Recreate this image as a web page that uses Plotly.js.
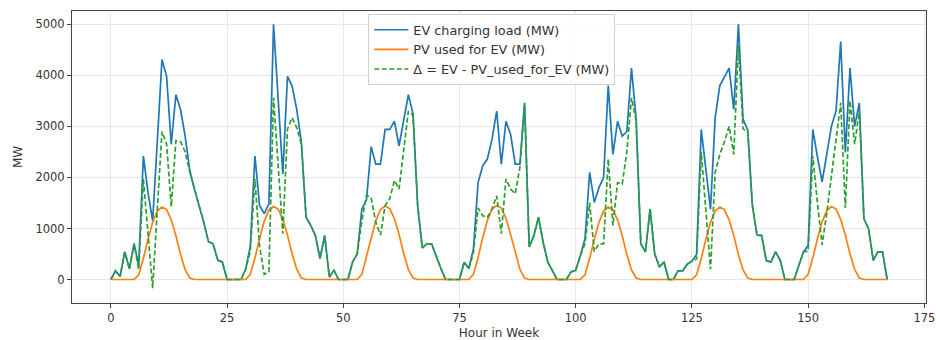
<!DOCTYPE html>
<html>
<head>
<meta charset="utf-8">
<script src="https://cdn.plot.ly/plotly-3.0.1.min.js"></script>
<style>html,body{margin:0;padding:0;background:#fff;}#chart{width:936px;height:340px;}</style>
</head>
<body>
<div id="chart"></div>
<script>
// Hour in week (0..167)
const hours = Array.from({length: 168}, (_, i) => i);

// EV charging load (MW)
const evLoad = [
  // day 1 (0-23)
  0,170,60,540,210,700,280,2420,1700,1150,2700,4310,3980,2650,3620,3330,2800,2130,1770,1450,1120,740,700,380,
  // day 2 (24-47)
  340,0,0,0,0,200,650,2420,1450,1290,1480,5000,3550,2070,3980,3790,3330,2680,1220,1060,860,410,860,50,
  // day 3 (48-71)
  180,0,0,0,340,500,1380,1560,2600,2260,2260,2940,2940,3100,2620,3140,3620,3250,1450,620,700,700,450,215,
  // day 4 (72-95)
  0,0,0,0,340,215,600,1900,2230,2360,2750,3300,2260,3100,2840,2260,2260,3460,640,860,1220,730,340,180,
  // day 5 (96-119)
  0,0,0,150,180,470,800,2100,1510,1800,2000,3800,2450,3100,2810,2900,4140,3140,700,540,1380,500,250,340,
  // day 6 (120-143)
  0,0,170,170,300,360,490,2940,2150,1380,3170,3800,3970,4140,3330,5000,3140,2930,1450,870,860,370,344,540,
  // day 7 (144-167)
  377,0,0,0,280,540,670,2940,2400,1915,2450,3000,3300,4660,2490,4140,3000,3460,1190,990,377,540,540,0
];

// PV used for EV (MW)
const pvUsed = [
  0,0,0,0,0,0,90,410,790,1120,1340,1420,1370,1170,860,490,190,30,0,0,0,0,0,0,
  0,0,0,0,0,0,100,420,800,1140,1360,1430,1380,1180,870,500,200,30,0,0,0,0,0,0,
  0,0,0,0,0,0,100,430,810,1150,1370,1440,1390,1190,880,510,200,30,0,0,0,0,0,0,
  0,0,0,0,0,0,100,430,820,1160,1380,1450,1400,1200,880,510,200,30,0,0,0,0,0,0,
  0,0,0,0,0,0,90,410,790,1120,1340,1420,1370,1170,860,490,190,30,0,0,0,0,0,0,
  0,0,0,0,0,0,90,410,790,1120,1340,1420,1370,1170,860,490,190,30,0,0,0,0,0,0,
  0,0,0,0,0,0,100,420,800,1130,1350,1430,1380,1180,870,500,200,30,0,0,0,0,0,0
];

// Δ = EV - PV_used_for_EV (MW)
const delta = [
  0,170,60,540,210,700,190,1970,900,-170,1380,2900,2650,1430,2720,2700,2500,2100,1770,1450,1120,740,700,380,
  340,0,0,0,0,200,550,1970,650,100,150,3560,2200,900,2950,3170,2970,2650,1220,1060,860,410,860,50,
  180,0,0,0,340,500,1150,1650,1600,1120,870,1450,1580,1940,1770,2550,3300,3220,1450,620,700,700,450,215,
  0,0,0,0,340,215,520,1400,1250,1220,1380,1640,900,1970,1770,1680,2200,3430,640,860,1220,730,340,180,
  0,0,0,150,180,470,700,1500,550,700,700,2360,1060,1900,1870,2500,3560,3120,700,540,1380,500,250,340,
  0,0,170,170,300,360,400,2500,1300,200,2100,2450,2700,3000,2450,4600,2950,2910,1450,870,860,370,344,540,
  377,0,0,0,280,540,560,2420,1500,680,1300,2000,2800,3460,1400,3500,2650,3300,1190,990,377,540,540,0
];

const seriesNames = ["EV charging load (MW)", "PV used for EV (MW)", "Δ = EV - PV_used_for_EV (MW)"];
const xTicks = [0, 25, 50, 75, 100, 125, 150, 175];
const yTicks = [0, 1000, 2000, 3000, 4000, 5000];

const traces = [
  {x: hours, y: evLoad, name: seriesNames[0], type: "scatter", mode: "lines",
   line: {color: "#1f77b4", width: 1.7}},
  {x: hours, y: pvUsed, name: seriesNames[1], type: "scatter", mode: "lines",
   line: {color: "#ff7f0e", width: 1.7}},
  {x: hours, y: delta, name: seriesNames[2], type: "scatter", mode: "lines",
   line: {color: "#2ca02c", width: 1.7, dash: "5px,2.5px"}}
];

const axisCommon = {
  showgrid: true, gridcolor: "#e8e8e8", gridwidth: 1,
  zeroline: false, showline: true, mirror: true, linecolor: "#444", linewidth: 1,
  ticks: "outside", ticklen: 4, tickwidth: 1, tickcolor: "#444",
  tickfont: {family: "DejaVu Sans", size: 11.5, color: "#333"}
};

const layout = {
  width: 936, height: 340,
  margin: {l: 72, r: 10, t: 11, b: 37},
  paper_bgcolor: "#fff", plot_bgcolor: "#fff",
  showlegend: true,
  font: {family: "DejaVu Sans", color: "#333"},
  xaxis: Object.assign({}, axisCommon, {
    range: [-8.35, 175.35], tickmode: "array", tickvals: xTicks, ticktext: xTicks.map(String),
    title: {text: "Hour in Week", font: {family: "DejaVu Sans", size: 12, color: "#333"}, standoff: 6}
  }),
  yaxis: Object.assign({}, axisCommon, {
    range: [-460, 5260], tickmode: "array", tickvals: yTicks, ticktext: yTicks.map(String),
    title: {text: "MW", font: {family: "DejaVu Sans", size: 12, color: "#333"}, standoff: 10}
  }),
  legend: {
    x: 0.347, y: 0.99, xanchor: "left", yanchor: "top",
    bgcolor: "rgba(255,255,255,0.9)", bordercolor: "#d0d0d0", borderwidth: 1,
    font: {family: "DejaVu Sans", size: 12.8, color: "#333"},
    tracegroupgap: 0, itemwidth: 34
  }
};

Plotly.newPlot("chart", traces, layout, {displayModeBar: false, staticPlot: true});
</script>
</body>
</html>
